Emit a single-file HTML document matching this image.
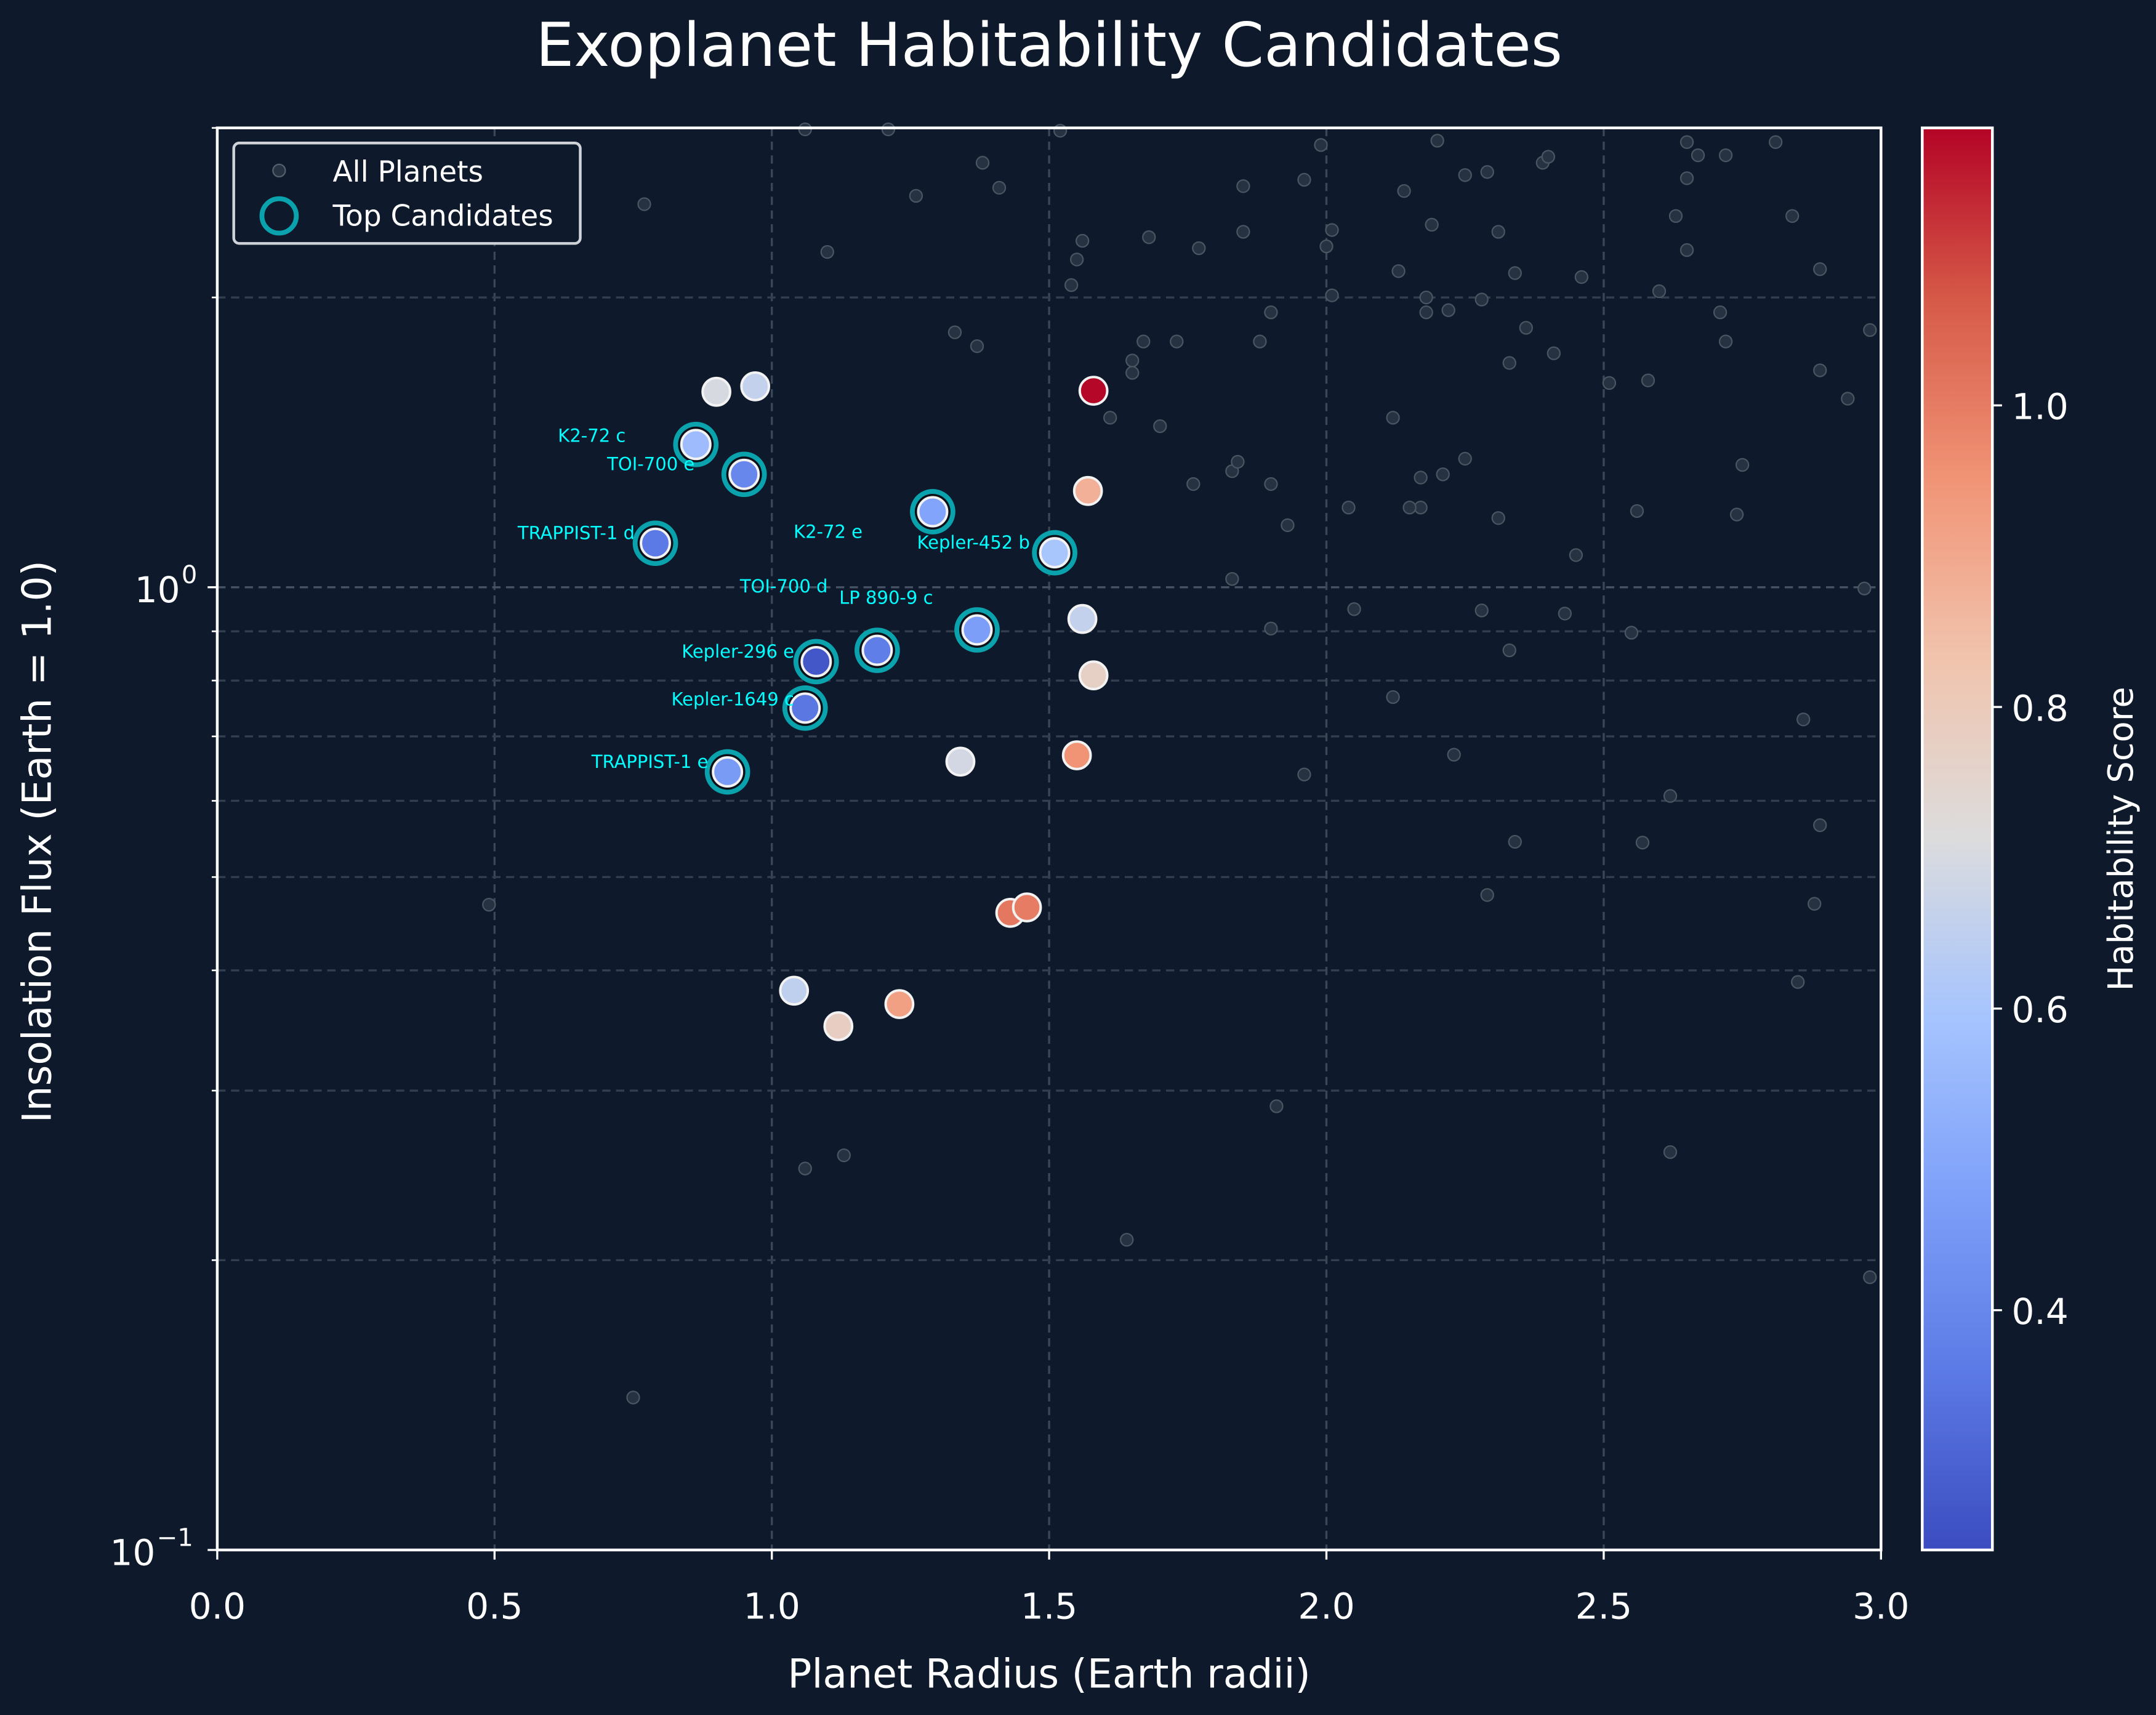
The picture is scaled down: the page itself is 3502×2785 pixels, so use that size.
<!DOCTYPE html>
<html><head><meta charset="utf-8"><style>
html,body{margin:0;padding:0;background:#0e1a2b;}
svg{display:block;font-family:"DejaVu Sans","Liberation Sans",sans-serif;}
</style></head><body>
<svg id="chart" xmlns="http://www.w3.org/2000/svg" width="3502" height="2785" viewBox="0 0 1568 1247" preserveAspectRatio="none">
<rect x="0" y="0" width="1568" height="1247" fill="#0e1a2b"/>
<text x="763" y="48" fill="#ffffff" font-size="44" text-anchor="middle">Exoplanet Habitability Candidates</text>
<g id="grid"></g>
<g id="bg"></g>
<g id="pts"></g>
<g id="cand"></g>
<rect x="158" y="93" width="1210" height="1034" fill="none" stroke="#ffffff" stroke-width="2"/>
<g id="axes"></g>
<text x="763" y="1227" fill="#ffffff" font-size="29" text-anchor="middle">Planet Radius (Earth radii)</text>
<text transform="translate(37,612) rotate(-90)" fill="#ffffff" font-size="29" text-anchor="middle">Insolation Flux (Earth = 1.0)</text>
<g>
<rect x="170" y="104" width="252" height="73" rx="4" fill="#0e1a2b" stroke="#cfd3d8" stroke-width="2"/>
<circle cx="203" cy="124" r="4.5" fill="#263241" stroke="#55606c" stroke-width="1"/>
<text x="242" y="132" fill="#ffffff" font-size="21">All Planets</text>
<circle cx="203" cy="157" r="12.5" fill="none" stroke="#0aa3ad" stroke-width="3.5"/>
<text x="242" y="164" fill="#ffffff" font-size="21">Top Candidates</text>
</g>
<defs><linearGradient id="cmap" x1="0" y1="1" x2="0" y2="0"></linearGradient></defs>
<rect x="1398" y="93" width="51" height="1034" fill="url(#cmap)" stroke="#ffffff" stroke-width="2"/>
<g id="cbax"></g>
<text transform="translate(1551,610) rotate(-90)" fill="#ffffff" font-size="25" text-anchor="middle">Habitability Score</text>
</svg>
<script>
// Data
const bgRadius=[0.77,1.38,1.41,1.26,1.10,1.06,1.21,1.52,1.33,1.37,1.56,1.55,1.54,1.68,1.77,1.85,1.85,1.96,1.99,2.01,2.00,2.01,1.90,1.88,1.73,1.67,1.65,1.65,1.61,1.70,1.76,1.83,1.84,1.90,1.93,2.04,2.12,2.13,2.14,2.20,2.25,2.29,2.31,2.19,2.18,2.18,2.22,2.28,2.34,2.36,2.33,2.41,2.39,2.40,2.46,2.51,2.58,2.60,2.63,2.65,2.65,2.67,2.72,2.65,2.71,2.72,2.81,2.84,2.89,2.89,2.94,2.98,2.75,2.74,2.56,2.45,2.31,2.25,2.21,2.17,2.17,2.15,2.05,1.90,1.83,2.28,2.33,2.43,2.55,2.97,2.86,2.12,2.23,1.96,2.62,2.34,2.57,2.89,2.29,2.88,2.85,1.91,2.62,1.64,1.13,1.06,0.49,0.75,2.98];
const bgFlux=[2.50,2.76,2.60,2.55,2.23,2.99,2.99,2.98,1.84,1.78,2.29,2.19,2.06,2.31,2.25,2.61,2.34,2.65,2.88,2.35,2.26,2.01,1.93,1.80,1.80,1.80,1.72,1.67,1.50,1.47,1.28,1.32,1.35,1.28,1.16,1.21,1.50,2.13,2.58,2.91,2.68,2.70,2.34,2.38,2.00,1.93,1.94,1.99,2.12,1.86,1.71,1.75,2.76,2.80,2.10,1.63,1.64,2.03,2.43,2.66,2.90,2.81,2.81,2.24,1.93,1.80,2.90,2.43,2.14,1.68,1.57,1.85,1.34,1.19,1.20,1.08,1.18,1.36,1.31,1.30,1.21,1.21,0.949,0.906,1.02,0.946,0.86,0.939,0.897,0.997,0.729,0.769,0.67,0.639,0.607,0.544,0.543,0.566,0.479,0.469,0.389,0.289,0.259,0.21,0.257,0.249,0.468,0.144,0.192];
const hRadius=[0.90,0.97,1.58,1.57,1.56,1.58,1.34,1.55,1.43,1.46,1.04,1.12,1.23];
const hFlux=[1.596,1.617,1.60,1.259,0.927,0.81,0.659,0.669,0.459,0.465,0.381,0.35,0.369];
const hScore=[0.70,0.66,1.18,0.88,0.66,0.77,0.69,0.95,1.01,1.00,0.65,0.78,0.92];
const candNames=["K2-72 c","TOI-700 e","TRAPPIST-1 d","K2-72 e","Kepler-452 b","LP 890-9 c","TOI-700 d","Kepler-296 e","Kepler-1649 c","TRAPPIST-1 e"];
const candRadius=[0.863,0.95,0.79,1.29,1.51,1.37,1.19,1.08,1.06,0.92];
const candFlux=[1.407,1.31,1.111,1.198,1.086,0.903,0.86,0.837,0.749,0.643];
const candScore=[0.57,0.40,0.36,0.49,0.60,0.47,0.37,0.27,0.35,0.46];
const labelDx=[-51,-36,-15,-51,-18,-32,-36,-16,-8,-14];
const labelDy=[-2,-3,-3,19,-3,-19,-42,-3,-2,-3];
const xTicks=[0,0.5,1,1.5,2,2.5,3];
const xTickLabels=["0.0","0.5","1.0","1.5","2.0","2.5","3.0"];
const yMinor=[0.2,0.3,0.4,0.5,0.6,0.7,0.8,0.9,2,3];
const cbTicks=[0.4,0.6,0.8,1.0];
const cbTickLabels=["0.4","0.6","0.8","1.0"];
const vMin=0.241,vMax=1.184;

const NS="http://www.w3.org/2000/svg";
const X=r=>158+r/3*1210;
const Y=f=>427-Math.log10(f)*700;
const CB=v=>1127-(v-vMin)/(vMax-vMin)*1034;
function mk(t,a,p){const e=document.createElementNS(NS,t);for(const k in a)e.setAttribute(k,a[k]);p.appendChild(e);return e;}
const stops=[[0,[59,76,192]],[0.125,[92,122,229]],[0.25,[126,160,249]],[0.375,[166,196,254]],[0.5,[220,220,221]],[0.625,[241,196,174]],[0.75,[241,149,119]],[0.875,[215,92,73]],[1,[180,4,38]]];
function cmap(v){let t=Math.max(0,Math.min(1,(v-vMin)/(vMax-vMin)));for(let i=0;i<stops.length-1;i++){const a=stops[i],b=stops[i+1];if(t<=b[0]){const u=(t-a[0])/(b[0]-a[0]);const c=a[1].map((x,j)=>Math.round(x+(b[1][j]-x)*u));return `rgb(${c})`;}}return "rgb(180,4,38)";}
const grad=document.getElementById('cmap');
stops.forEach(s=>{mk('stop',{offset:s[0],'stop-color':`rgb(${s[1]})`},grad);});

const grid=document.getElementById('grid');
xTicks.slice(1,-1).forEach(v=>{const l=mk('line',{x1:X(v),x2:X(v),y1:93,y2:1127,stroke:'#3a4757','stroke-width':1.5,'stroke-dasharray':'6,4'},grid);

});
yMinor.concat([1]).forEach(v=>{const l=mk('line',{x1:158,x2:1368,y1:Y(v),y2:Y(v),stroke:v===1?'#445263':'#333f4f','stroke-width':1.5,'stroke-dasharray':'6,4'},grid);

});

const bg=document.getElementById('bg');
bgRadius.forEach((r,i)=>{const c=mk('circle',{cx:X(r),cy:Y(bgFlux[i]),r:4.5,fill:'#263241',stroke:'#4a5561','stroke-width':1},bg);

});

const pts=document.getElementById('pts');
hRadius.forEach((r,i)=>{const c=mk('circle',{cx:X(r),cy:Y(hFlux[i]),r:10,fill:cmap(hScore[i]),stroke:'#f2f2f2','stroke-width':1.8},pts);

});

const cand=document.getElementById('cand');
candRadius.forEach((r,i)=>{const cx=X(r),cy=Y(candFlux[i]);
const ring=mk('circle',{cx:cx,cy:cy,r:16.5,fill:'#0aa3ad'},cand);


mk('circle',{cx:cx,cy:cy,r:13,fill:'#0b0f18'},cand);
const c=mk('circle',{cx:cx,cy:cy,r:10.5,fill:cmap(candScore[i]),stroke:'#f2f2f2','stroke-width':1.8},cand);


const t=mk('text',{x:cx+labelDx[i],y:cy+labelDy[i],fill:'#00ffff','font-size':13,'text-anchor':'end'},cand);
t.textContent=candNames[i];

});

const ax=document.getElementById('axes');
xTicks.forEach((v,i)=>{mk('line',{x1:X(v),x2:X(v),y1:1127,y2:1134,stroke:'#fff','stroke-width':1.5},ax);
const t=mk('text',{x:X(v),y:1177,fill:'#fff','font-size':26,'text-anchor':'middle'},ax);t.textContent=xTickLabels[i];

});
yMinor.forEach(v=>{mk('line',{x1:154,x2:158,y1:Y(v),y2:Y(v),stroke:'#fff','stroke-width':1.2},ax);});
[[1,"0"],[0.1,"−1"]].forEach(d=>{mk('line',{x1:151,x2:158,y1:Y(d[0]),y2:Y(d[0]),stroke:'#fff','stroke-width':1.5},ax);
const t=mk('text',{x:d[1]==="0"?131:113,y:Y(d[0])+11,fill:'#fff','font-size':26,'text-anchor':'end'},ax);t.textContent="10";


const s=mk('text',{x:d[1]==="0"?132:114,y:Y(d[0])-3,fill:'#fff','font-size':18},ax);s.textContent=d[1];});

const cb=document.getElementById('cbax');
cbTicks.forEach((v,i)=>{mk('line',{x1:1449,x2:1456,y1:CB(v),y2:CB(v),stroke:'#fff','stroke-width':1.5},cb);
const t=mk('text',{x:1463,y:CB(v)+10,fill:'#fff','font-size':26},cb);t.textContent=cbTickLabels[i];

});
</script>
</body></html>
